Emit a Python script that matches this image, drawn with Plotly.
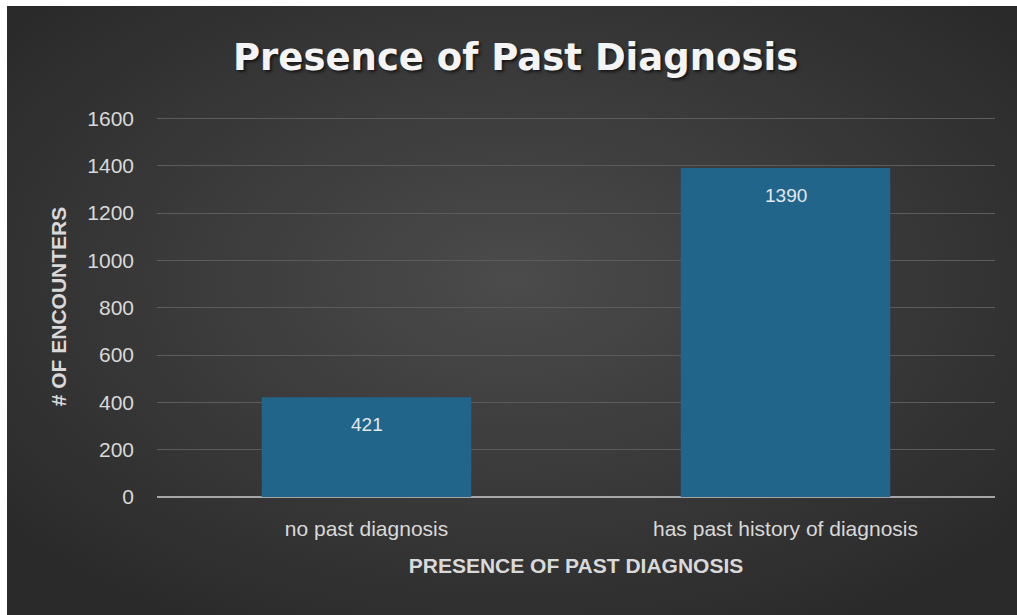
import base64
import plotly.graph_objects as go

categories = ["no past diagnosis", "has past history of diagnosis"]
encounters = [421, 1390]
y_ticks = [0, 200, 400, 600, 800, 1000, 1200, 1400, 1600]

W, H = 1017, 615
LABEL_FONT = "Liberation Sans, Arial, sans-serif"

# dark radial backdrop, lighter towards the middle
svg = (
    '<svg xmlns="http://www.w3.org/2000/svg" width="1010" height="609" viewBox="0 0 1010 609">'
    '<defs><radialGradient id="g" cx="50%" cy="45%" r="65%">'
    '<stop offset="0%" stop-color="#4b4b4b"/>'
    '<stop offset="100%" stop-color="#2a2a2a"/>'
    '</radialGradient></defs>'
    '<rect width="1010" height="609" fill="url(#g)"/></svg>'
)
bg_uri = "data:image/svg+xml;base64," + base64.b64encode(svg.encode()).decode()

PLOT_W, PLOT_H = 838, 381
M_L, M_T = 157, 116

fig = go.Figure()
fig.add_trace(go.Bar(
    x=categories,
    y=encounters,
    width=0.5,
    marker=dict(color="#22658b", line=dict(width=0)),
    hoverinfo="skip",
))

# value labels sit just below the top of each bar
for cat, val in zip(categories, encounters):
    fig.add_annotation(
        x=cat, y=val, xref="x", yref="y",
        text=str(val), showarrow=False,
        yanchor="top", yshift=-15,
        font=dict(family=LABEL_FONT, size=19, color="#e2e8ee"),
    )

fig.update_layout(
    width=W, height=H,
    paper_bgcolor="white",
    plot_bgcolor="rgba(0,0,0,0)",
    margin=dict(l=M_L, r=W - M_L - PLOT_W, t=M_T, b=H - M_T - PLOT_H),
    showlegend=False,
    images=[dict(
        source=bg_uri, xref="paper", yref="paper",
        x=-(M_L - 7) / PLOT_W, y=1 + (M_T - 6) / PLOT_H,
        sizex=1010 / PLOT_W, sizey=609 / PLOT_H,
        xanchor="left", yanchor="top",
        sizing="stretch", layer="below",
    )],
    title=dict(
        text="<b>Presence of Past Diagnosis</b>",
        x=0.507, xanchor="center", y=0.907, yanchor="middle",
        font=dict(family="DejaVu Sans, sans-serif", size=37, color="#f4f4f4",
                  shadow="2px 2px 3px rgba(0,0,0,0.6)"),
    ),
    xaxis=dict(
        showgrid=False, showline=False, zeroline=False, ticks="",
        ticklabelstandoff=17,
        tickfont=dict(family=LABEL_FONT, size=21, color="#d9d9d9"),
        title=dict(text="<b>PRESENCE OF PAST DIAGNOSIS</b>", standoff=19,
                   font=dict(family=LABEL_FONT, size=21, color="#d9d9d9")),
    ),
    yaxis=dict(
        range=[0, 1610], tickvals=y_ticks,
        showgrid=True, gridcolor="#5c5c5c", gridwidth=1,
        zeroline=True, zerolinecolor="#a6a6a6", zerolinewidth=2,
        ticks="", ticklabelstandoff=22,
        tickfont=dict(family=LABEL_FONT, size=21, color="#d9d9d9"),
        title=dict(text="<b># OF ENCOUNTERS</b>", standoff=14,
                   font=dict(family=LABEL_FONT, size=21, color="#d9d9d9")),
    ),
)

fig.write_html("out.html")
